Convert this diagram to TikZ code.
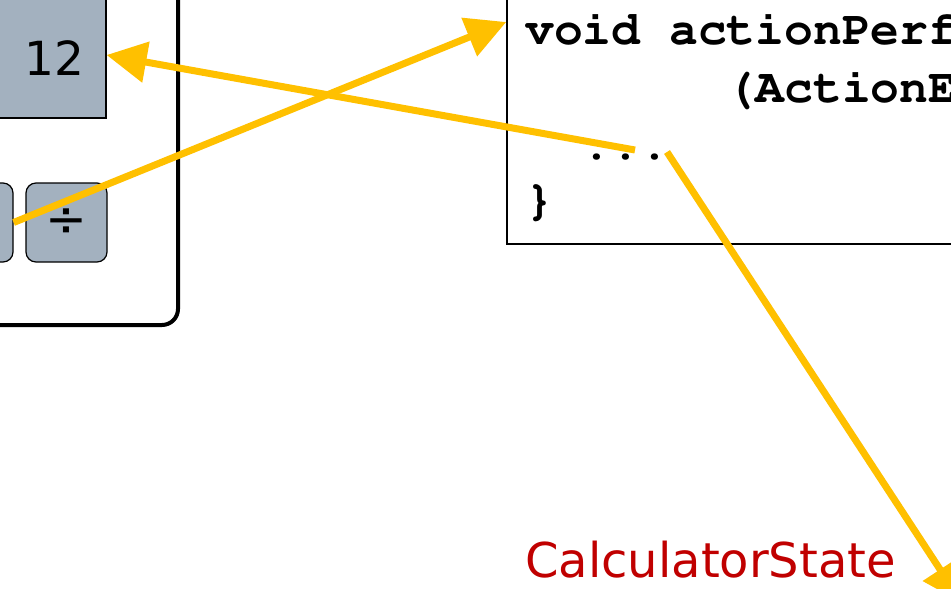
\documentclass[tikz,border=0pt]{standalone}
\usepackage{fontspec}
\setmainfont{DejaVu Sans}
\newcommand\codefont{\fontencoding{T1}\fontfamily{pcr}\fontseries{b}\selectfont}
\usetikzlibrary{arrows.meta}
\definecolor{keygray}{RGB}{163,177,191}
\definecolor{flowyellow}{RGB}{255,192,0}
\definecolor{statered}{RGB}{192,0,0}

\begin{document}
\begin{tikzpicture}[
    x=1pt, y=-1pt,
    panel/.style={draw=black, line width=4pt, rounded corners=16pt, inner sep=0pt},
    screen/.style={draw=black, line width=1.2pt, fill=keygray, inner sep=0pt},
    keybox/.style={draw=black, line width=1.2pt, fill=keygray, rounded corners=10pt, minimum width=81pt, minimum height=79pt, inner sep=0pt, font=\fontsize{50}{50}\selectfont},
    codebox/.style={draw=black, line width=1.5pt, inner sep=0pt},
    codeline/.style={anchor=base west, inner sep=0pt, font=\fontsize{48}{57}\codefont},
    flow/.style={draw=flowyellow, line width=7pt, -{Triangle[length=40pt, width=40pt]}}
  ]
    \useasboundingbox (0,0) rectangle (951,589);
    \clip (0,0) rectangle (951,589);

    % calculator
    \node[panel, minimum width=400pt, minimum height=500pt] (calc) at (-22,75) {};
    \node[screen, minimum width=300pt, minimum height=126pt] (screen) at (-44,55) {};
    \node[anchor=base east, inner sep=0pt, font=\fontsize{47}{47}\selectfont] (readout) at (85,75) {12};
    \node[keybox] (leftkey) at (-27.5,222.5) {};
    \node[keybox] (divkey) at (66.5,222.5) {÷};

    % listener code
    \node[codebox, minimum width=793pt, minimum height=444pt] (code) at (903.5,22) {};
    \node[codeline] (sigline) at (525,45) {void actionPerf};
    \node[codeline] (argline) at (525,102) {\hphantom{xxxxxxx}(ActionE};
    \node[codeline] (bodyline) at (525,159) {\hphantom{xx}...};
    \node[codeline] (closeline) at (525,214) {\}};
    \coordinate (update) at (635,150);
    \coordinate (change) at (667,152);

    % state
    \node[anchor=base west, inner sep=0pt, text=statered, font=\fontsize{48}{48}\selectfont] (state) at (525,577) {CalculatorState};
    \coordinate (stateref) at (962,603);

    \draw[flow] (leftkey.east) -- (code.west);
    \draw[flow] (update) -- (screen.east);
    \draw[flow] (change) -- (stateref);
\end{tikzpicture}
\end{document}
